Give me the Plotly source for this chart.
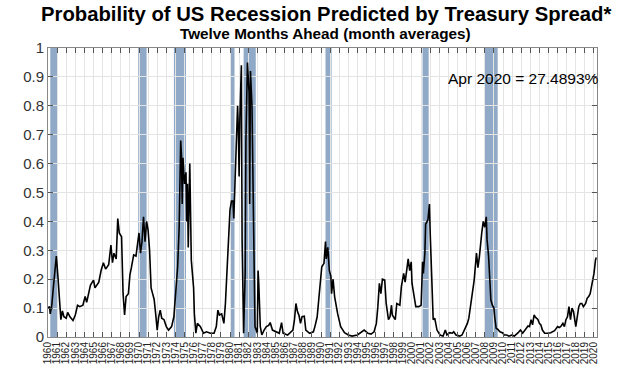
import plotly.graph_objects as go

# Monthly probability readings
months = [
    "1960-01","1960-03","1960-04","1960-06","1960-08","1960-12","1961-02","1961-04","1961-06","1961-08","1961-10",
    "1962-01","1962-03","1962-06","1962-10","1963-01","1963-04","1963-07","1963-11","1964-02","1964-04","1964-09",
    "1965-01","1965-03","1965-08","1965-11","1966-02","1966-05","1966-09","1966-12","1967-02","1967-04","1967-07",
    "1967-09","1967-11","1968-02","1968-04","1968-06","1968-08","1968-11","1969-01","1969-03","1969-06","1969-09",
    "1970-01","1970-03","1970-05","1970-07","1970-09","1970-11","1971-01","1971-03","1971-05","1971-07","1971-09",
    "1971-11","1972-01","1972-03","1972-05","1972-07","1972-10","1973-01","1973-04","1973-08","1973-11","1974-01",
    "1974-04","1974-06","1974-08","1974-09","1974-10","1974-11","1975-01","1975-03","1975-04","1975-05","1975-06",
    "1975-08","1975-09","1975-10","1976-01","1976-02","1976-04","1976-06","1976-10","1977-02","1977-06","1977-11",
    "1978-04","1978-07","1978-09","1978-11","1979-02","1979-05","1979-07","1979-09","1979-11","1980-01","1980-03",
    "1980-05","1980-06","1980-07","1980-09","1980-10","1980-11","1980-12","1981-01","1981-02","1981-04","1981-05",
    "1981-06","1981-07","1981-09","1981-10","1981-12","1982-02","1982-03","1982-04","1982-06","1982-07","1982-09",
    "1982-10","1983-01","1983-02","1983-03","1983-05","1983-07","1983-10","1984-01","1984-04","1984-06","1984-09",
    "1985-01","1985-06","1985-09","1985-11","1986-05","1986-12","1987-02","1987-04","1987-06","1987-08","1987-10",
    "1987-12","1988-03","1988-05","1988-10","1989-03","1989-05","1989-08","1989-10","1990-01","1990-02","1990-05",
    "1990-07","1990-08","1990-10","1990-12","1991-02","1991-03","1991-05","1991-07","1991-09","1991-11","1992-03",
    "1992-08","1993-01","1993-06","1994-01","1994-06","1994-10","1995-03","1995-07","1995-11","1996-02","1996-04",
    "1996-06","1996-08","1996-10","1997-01","1997-03","1997-06","1997-08","1997-10","1997-11","1998-03","1998-05",
    "1998-09","1998-11","1999-02","1999-04","1999-06","1999-08","1999-10","1999-12","2000-01","2000-03","2000-06",
    "2000-10","2001-01","2001-03","2001-04","2001-06","2001-07","2001-10","2001-12","2002-01","2002-03","2002-05",
    "2002-07","2002-10","2003-02","2003-06","2003-09","2003-11","2004-03","2004-06","2004-08","2004-11","2005-04",
    "2005-07","2005-10","2006-02","2006-04","2006-07","2006-09","2006-11","2007-02","2007-04","2007-06","2007-08",
    "2007-09","2007-11","2008-01","2008-03","2008-04","2008-06","2008-07","2008-09","2008-11","2009-01","2009-02",
    "2009-04","2009-06","2009-09","2009-12","2010-03","2010-06","2010-09","2011-01","2011-04","2011-09","2011-12",
    "2012-03","2012-08","2012-10","2012-12","2013-02","2013-04","2013-06","2013-08","2013-11","2014-01","2014-03",
    "2014-05","2014-08","2014-12","2015-04","2015-09","2016-01","2016-03","2016-05","2016-08","2016-10","2016-12",
    "2017-02","2017-04","2017-06","2017-08","2017-10","2018-01","2018-03","2018-05","2018-07","2018-09","2018-11",
    "2019-02","2019-04","2019-06","2019-08","2019-11","2020-01","2020-03","2020-04",
]
probability = [
    0.10,0.105,0.08,0.11,0.17,0.28,0.21,0.12,0.06,0.09,0.07,
    0.065,0.085,0.07,0.057,0.076,0.11,0.105,0.11,0.14,0.12,0.18,
    0.197,0.17,0.19,0.23,0.257,0.235,0.25,0.318,0.257,0.29,0.27,
    0.41,0.36,0.347,0.15,0.076,0.14,0.15,0.215,0.24,0.284,0.28,
    0.36,0.29,0.33,0.416,0.33,0.40,0.37,0.30,0.17,0.15,0.13,
    0.08,0.024,0.07,0.093,0.065,0.06,0.036,0.024,0.036,0.07,0.14,
    0.243,0.38,0.68,0.63,0.46,0.62,0.53,0.57,0.40,0.53,0.31,
    0.60,0.29,0.266,0.17,0.08,0.013,0.047,0.036,0.013,0.018,0.013,
    0.013,0.036,0.093,0.076,0.08,0.047,0.116,0.23,0.36,0.44,0.47,
    0.47,0.41,0.48,0.635,0.716,0.80,0.72,0.555,0.76,0.94,0.336,
    0.036,0.013,0.22,0.68,0.95,0.85,0.46,0.92,0.80,0.65,0.22,
    0.036,0.013,0.23,0.186,0.036,0.007,0.024,0.036,0.04,0.05,0.024,
    0.018,0.013,0.05,0.013,0.007,0.024,0.06,0.116,0.088,0.075,0.047,
    0.07,0.072,0.024,0.013,0.018,0.036,0.07,0.128,0.22,0.243,0.255,
    0.33,0.27,0.31,0.23,0.21,0.15,0.20,0.14,0.105,0.08,0.036,
    0.015,0.007,0.003,0.007,0.018,0.024,0.013,0.01,0.018,0.047,0.105,
    0.186,0.15,0.20,0.197,0.116,0.06,0.07,0.11,0.076,0.06,0.116,
    0.11,0.174,0.22,0.19,0.23,0.27,0.23,0.26,0.186,0.15,0.105,
    0.105,0.11,0.26,0.22,0.29,0.39,0.405,0.46,0.36,0.22,0.06,
    0.065,0.024,0.007,0.003,0.024,0.007,0.015,0.013,0.018,0.007,0.003,
    0.007,0.024,0.047,0.065,0.116,0.15,0.197,0.29,0.24,0.28,0.34,
    0.36,0.40,0.38,0.416,0.336,0.28,0.22,0.128,0.11,0.10,0.07,
    0.03,0.027,0.018,0.015,0.007,0.007,0.003,0.007,0.003,0.015,0.024,
    0.013,0.03,0.038,0.036,0.06,0.042,0.076,0.068,0.061,0.047,0.042,
    0.024,0.013,0.013,0.015,0.022,0.036,0.033,0.036,0.047,0.036,0.06,
    0.07,0.105,0.06,0.10,0.088,0.036,0.076,0.105,0.116,0.116,0.105,
    0.116,0.134,0.14,0.15,0.197,0.22,0.266,0.275,
]

# NBER recessions (shaded)
rec_start = ["1960-04-01","1969-12-01","1973-11-01","1980-01-01","1981-07-01","1990-07-01","2001-03-01","2007-12-01"]
rec_end   = ["1961-02-01","1970-11-01","1975-03-01","1980-07-01","1982-11-01","1991-03-01","2001-11-01","2009-06-01"]

title_text = "Probability of US Recession Predicted by Treasury Spread*"
subtitle_text = "Twelve Months Ahead (month averages)"
note_text = "Apr 2020 = 27.4893%"

fig = go.Figure()
fig.add_trace(go.Scatter(x=months, y=probability, mode="lines",
                         line=dict(color="black", width=1.6), showlegend=False,
                         hoverinfo="skip"))

for s, e in zip(rec_start, rec_end):
    fig.add_shape(type="rect", xref="x", yref="paper", x0=s, x1=e, y0=0, y1=1,
                  fillcolor="#8FA9C7", line=dict(width=0), layer="between")

fig.update_layout(
    width=640, height=379,
    margin=dict(l=48, r=43, t=48, b=42, autoexpand=False),
    paper_bgcolor="white", plot_bgcolor="white",
    font=dict(family="Liberation Sans, Arial, sans-serif", color="#222"),
    showlegend=False,
)
fig.add_annotation(text="<b>" + title_text + "</b>", xref="paper", yref="paper",
                   x=0.506, y=1.118, yanchor="middle", showarrow=False,
                   font=dict(size=20.3, color="black", family="Liberation Sans, Arial"))
fig.add_annotation(text="<b>" + subtitle_text + "</b>", xref="paper", yref="paper",
                   x=0.506, y=1.05, yanchor="middle", showarrow=False,
                   font=dict(size=15.3, color="black", family="Liberation Sans, Arial"))
fig.add_annotation(text=note_text, xref="paper", yref="paper",
                   x=1.008, xanchor="right", y=0.896, yanchor="middle", showarrow=False,
                   font=dict(size=15.5, color="black", family="Liberation Sans, Arial"))

fig.update_xaxes(
    type="date", range=["1960-01-01", "2020-05-01"], automargin=False,
    dtick="M12", tick0="1960-01-01", tickformat="%Y", tickangle=-90,
    tickfont=dict(size=10, color="#222"),
    showgrid=True, gridcolor="#e4e4e4", gridwidth=1,
    ticks="inside", ticklen=5, tickcolor="#555",
    showline=True, linecolor="#888", linewidth=1, mirror="ticks",
    zeroline=False,
)
fig.update_yaxes(
    range=[0, 1], dtick=0.1, tick0=0, automargin=False,
    tickformat="~g",
    tickfont=dict(size=15, color="#333"),
    showgrid=True, gridcolor="#e4e4e4", gridwidth=1,
    ticks="inside", ticklen=5, tickcolor="#555",
    showline=True, linecolor="#888", linewidth=1, mirror="ticks",
    zeroline=False,
)

fig.write_html("out.html", config={"displayModeBar": False},
               post_script="document.body.style.margin='0';")
